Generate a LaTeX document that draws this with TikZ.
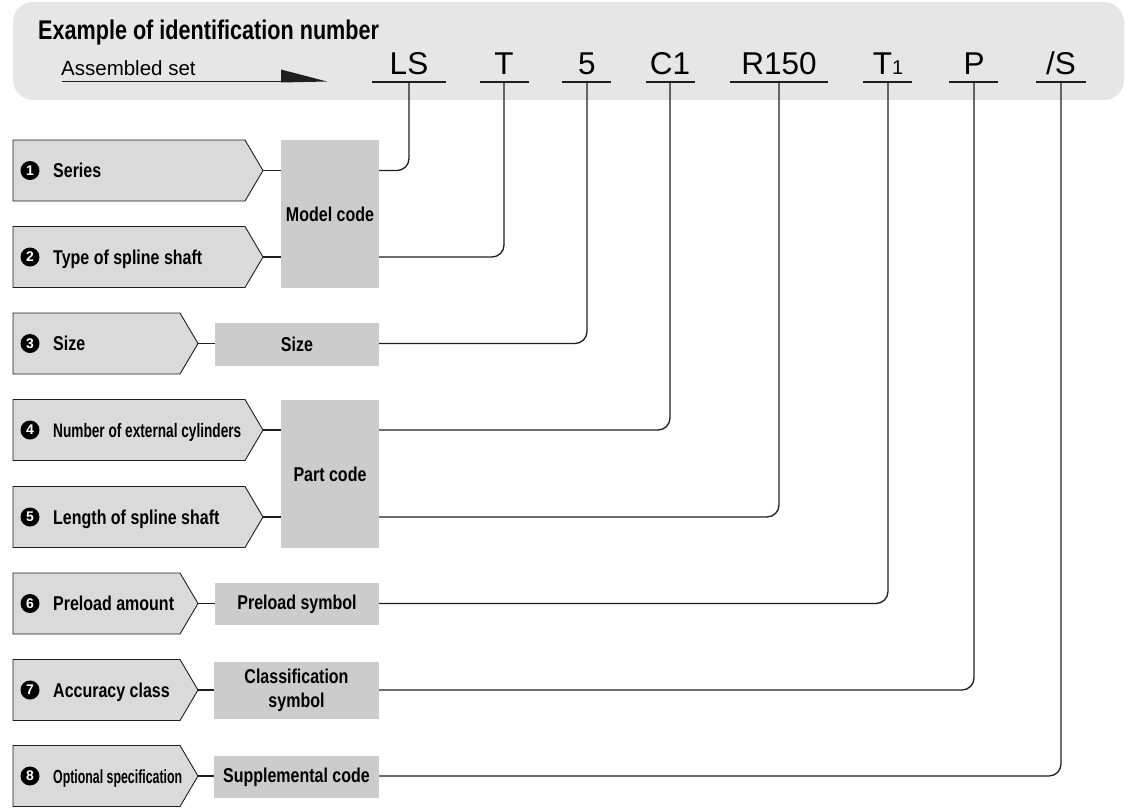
\documentclass[tikz,border=0pt]{standalone}
\usepackage{fontspec}
\setmainfont{Liberation Sans}
\newfontfamily\cnd{Liberation Sans}[FakeStretch=0.8]
\newfontfamily\cndx{Liberation Sans}[FakeStretch=0.70]
\newfontfamily\cndy{Liberation Sans}[FakeStretch=0.65]
\definecolor{panelgray}{HTML}{E6E6E6}
\definecolor{pentgray}{HTML}{DADADA}
\definecolor{boxgray}{HTML}{CCCCCC}
\definecolor{ink}{HTML}{1E1E1E}
\newcommand\pentshape[4]{%
  \draw[pent] (13,#1) -- (#2,#1) -- (#3,#1+30.5) -- (#2,#1+61) -- (13,#1+61) -- cycle;
  \coordinate (#4) at (#3,#1+30.5);}
\begin{document}
\begin{tikzpicture}[x=1pt,y=-1pt,
  pent/.style={draw=ink, line width=0.9pt, fill=pentgray},
  codebox/.style={fill=boxgray, draw=none, inner sep=0pt, align=center,
    font=\cnd\bfseries\fontsize{20}{24}\selectfont},
  conn/.style={line width=1.3pt, draw=ink, rounded corners=12pt},
  num/.style={circle, fill=black, inner sep=0pt, minimum size=19pt, text=white,
    font=\bfseries\fontsize{14}{14}\selectfont},
  lab/.style={anchor=base west, inner sep=0pt, font=\cnd\bfseries\fontsize{20}{24}\selectfont},
  code/.style={anchor=base, inner sep=0pt, font=\fontsize{31.5}{32}\selectfont},
  uline/.style={line width=1.3pt, draw=ink}]
\useasboundingbox (0,0) rectangle (1125,807);
% top panel
\fill[panelgray, rounded corners=20pt] (13,2) rectangle (1124,100);
\node[anchor=base west, inner sep=0pt, font=\cnd\bfseries\fontsize{27}{30}\selectfont] (title) at (38,39) {Example of identification number};
\node[anchor=base west, inner sep=0pt, font=\fontsize{20.5}{24}\selectfont] (asm) at (61,75) {Assembled set};
\draw[line width=1.3pt, draw=ink] (62,81.5) -- (282,81.5);
\fill[ink] (281,69.5) -- (327,81.5) -- (281,82.5) -- cycle;
% codes
\node[code] (cLS) at (409,74) {LS};
\node[code] (cT) at (504,74) {T};
\node[code] (c5) at (587,74) {5};
\node[code] (cC1) at (670,74) {C1};
\node[code] (cR) at (779,74) {R150};
\node[code] (cT1) at (888,74) {T{\fontsize{20}{20}\selectfont 1}};
\node[code] (cP) at (974,74) {P};
\node[code] (cS) at (1061,74) {/S};
\draw[uline] (372,82) -- (446,82); \coordinate (uLS) at (409,82);
\draw[uline] (480,82) -- (529,82); \coordinate (uT) at (504,82);
\draw[uline] (562,82) -- (611,82); \coordinate (u5) at (587,82);
\draw[uline] (646,82) -- (695,82); \coordinate (uC1) at (670,82);
\draw[uline] (730,82) -- (828,82); \coordinate (uR) at (779,82);
\draw[uline] (863,82) -- (912,82); \coordinate (uT1) at (888,82);
\draw[uline] (949,82) -- (998,82); \coordinate (uP) at (974,82);
\draw[uline] (1036,82) -- (1086,82); \coordinate (uS) at (1061,82);
% pentagons
\pentshape{140}{245}{263}{t1}
\pentshape{226.5}{245}{263}{t2}
\pentshape{313}{180}{198}{t3}
\pentshape{399.5}{245}{263}{t4}
\pentshape{486.5}{245}{263}{t5}
\pentshape{573}{180}{198}{t6}
\pentshape{659.5}{180}{198}{t7}
\pentshape{745.5}{180}{198}{t8}
% numbers and labels
\node[num] (n1) at (30,170.5) {1};
\node[lab] (l1) at (53,177.7) {Series};
\node[num] (n2) at (30,257) {2};
\node[lab] (l2) at (53,264.2) {Type of spline shaft};
\node[num] (n3) at (30,343.5) {3};
\node[lab] (l3) at (53,350.7) {Size};
\node[num] (n4) at (30,430) {4};
\node[lab, font=\cndx\bfseries\fontsize{19.5}{24}\selectfont] (l4) at (53,437) {Number of external cylinders};
\node[num] (n5) at (30,517) {5};
\node[lab] (l5) at (53,524.2) {Length of spline shaft};
\node[num] (n6) at (30,603.5) {6};
\node[lab] (l6) at (53,610.7) {Preload amount};
\node[num] (n7) at (30,690) {7};
\node[lab] (l7) at (53,697.2) {Accuracy class};
\node[num] (n8) at (30,776) {8};
\node[lab, font=\cndy\bfseries\fontsize{19}{24}\selectfont] (l8) at (53,783) {Optional specification};
% code boxes
\node[codebox, minimum width=98pt, minimum height=148pt] (model) at (330,214) {Model code};
\node[codebox, minimum width=164pt, minimum height=43pt] (size) at (297,344.5) {Size};
\node[codebox, minimum width=98pt, minimum height=148pt] (part) at (330,474) {Part code};
\node[codebox, minimum width=164pt, minimum height=42pt] (pre) at (297,604) {Preload symbol};
\node[codebox, minimum width=165pt, minimum height=57pt] (cls) at (296.5,690.5) {Classification\\symbol};
\node[codebox, minimum width=165pt, minimum height=42pt] (sup) at (296.5,777) {Supplemental code};
% connectors
\draw[conn] (t1) -- (model.west |- t1);
\draw[conn] (t2) -- (model.west |- t2);
\draw[conn] (t3) -- (size.west |- t3);
\draw[conn] (t4) -- (part.west |- t4);
\draw[conn] (t5) -- (part.west |- t5);
\draw[conn] (t6) -- (pre.west |- t6);
\draw[conn] (t7) -- (cls.west |- t7);
\draw[conn] (t8) -- (sup.west |- t8);
\draw[conn] (model.east |- t1) -| (uLS);
\draw[conn] (model.east |- t2) -| (uT);
\draw[conn] (size.east |- t3) -| (u5);
\draw[conn] (part.east |- t4) -| (uC1);
\draw[conn] (part.east |- t5) -| (uR);
\draw[conn] (pre.east |- t6) -| (uT1);
\draw[conn] (cls.east |- t7) -| (uP);
\draw[conn] (sup.east |- t8) -| (uS);
\end{tikzpicture}
\end{document}
